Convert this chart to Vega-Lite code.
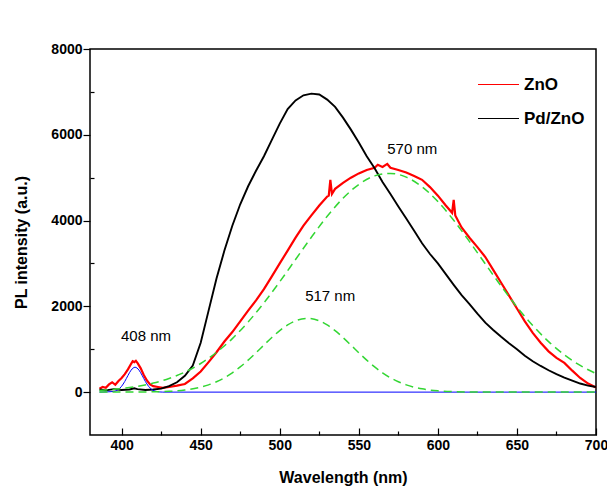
{
  "$schema": "https://vega.github.io/schema/vega-lite/v6.json",
  "width": 506,
  "height": 386,
  "autosize": {"type": "none"},
  "padding": {"left": 90, "top": 49, "right": 11, "bottom": 52},
  "background": "#ffffff",
  "data": {"values": [
    {"series":"ZnO","wl":386,"I":80},{"series":"ZnO","wl":388,"I":120},{"series":"ZnO","wl":390,"I":100},{"series":"ZnO","wl":392,"I":180},{"series":"ZnO","wl":394,"I":230},{"series":"ZnO","wl":396,"I":170},{"series":"ZnO","wl":398,"I":260},{"series":"ZnO","wl":400,"I":330},{"series":"ZnO","wl":402,"I":420},{"series":"ZnO","wl":404,"I":530},{"series":"ZnO","wl":406,"I":660},{"series":"ZnO","wl":407,"I":720},{"series":"ZnO","wl":408,"I":700},{"series":"ZnO","wl":409,"I":730},{"series":"ZnO","wl":410,"I":680},{"series":"ZnO","wl":412,"I":560},{"series":"ZnO","wl":414,"I":400},{"series":"ZnO","wl":416,"I":270},{"series":"ZnO","wl":418,"I":180},{"series":"ZnO","wl":420,"I":140},{"series":"ZnO","wl":423,"I":120},{"series":"ZnO","wl":426,"I":100},{"series":"ZnO","wl":430,"I":120},{"series":"ZnO","wl":435,"I":150},{"series":"ZnO","wl":440,"I":190},{"series":"ZnO","wl":445,"I":320},{"series":"ZnO","wl":450,"I":480},{"series":"ZnO","wl":455,"I":700},{"series":"ZnO","wl":460,"I":930},{"series":"ZnO","wl":465,"I":1180},{"series":"ZnO","wl":470,"I":1400},{"series":"ZnO","wl":475,"I":1650},{"series":"ZnO","wl":480,"I":1900},{"series":"ZnO","wl":485,"I":2140},{"series":"ZnO","wl":490,"I":2400},{"series":"ZnO","wl":495,"I":2700},{"series":"ZnO","wl":500,"I":3000},{"series":"ZnO","wl":505,"I":3300},{"series":"ZnO","wl":510,"I":3600},{"series":"ZnO","wl":515,"I":3880},{"series":"ZnO","wl":520,"I":4120},{"series":"ZnO","wl":525,"I":4350},{"series":"ZnO","wl":530,"I":4560},{"series":"ZnO","wl":531,"I":4580},{"series":"ZnO","wl":532,"I":4950},{"series":"ZnO","wl":533,"I":4620},{"series":"ZnO","wl":535,"I":4740},{"series":"ZnO","wl":540,"I":4880},{"series":"ZnO","wl":545,"I":5000},{"series":"ZnO","wl":550,"I":5100},{"series":"ZnO","wl":555,"I":5180},{"series":"ZnO","wl":560,"I":5230},{"series":"ZnO","wl":562,"I":5300},{"series":"ZnO","wl":565,"I":5250},{"series":"ZnO","wl":568,"I":5320},{"series":"ZnO","wl":570,"I":5230},{"series":"ZnO","wl":575,"I":5180},{"series":"ZnO","wl":580,"I":5120},{"series":"ZnO","wl":585,"I":5040},{"series":"ZnO","wl":590,"I":4950},{"series":"ZnO","wl":595,"I":4780},{"series":"ZnO","wl":600,"I":4580},{"series":"ZnO","wl":605,"I":4350},{"series":"ZnO","wl":609,"I":4180},{"series":"ZnO","wl":610,"I":4480},{"series":"ZnO","wl":611,"I":4120},{"series":"ZnO","wl":615,"I":3840},{"series":"ZnO","wl":620,"I":3600},{"series":"ZnO","wl":625,"I":3380},{"series":"ZnO","wl":630,"I":3150},{"series":"ZnO","wl":635,"I":2850},{"series":"ZnO","wl":640,"I":2550},{"series":"ZnO","wl":645,"I":2250},{"series":"ZnO","wl":650,"I":1950},{"series":"ZnO","wl":655,"I":1650},{"series":"ZnO","wl":660,"I":1380},{"series":"ZnO","wl":665,"I":1150},{"series":"ZnO","wl":670,"I":950},{"series":"ZnO","wl":675,"I":800},{"series":"ZnO","wl":680,"I":680},{"series":"ZnO","wl":685,"I":500},{"series":"ZnO","wl":690,"I":330},{"series":"ZnO","wl":695,"I":200},{"series":"ZnO","wl":700,"I":110},
    {"series":"Pd/ZnO","wl":386,"I":60},{"series":"Pd/ZnO","wl":390,"I":40},{"series":"Pd/ZnO","wl":395,"I":70},{"series":"Pd/ZnO","wl":400,"I":50},{"series":"Pd/ZnO","wl":405,"I":60},{"series":"Pd/ZnO","wl":408,"I":90},{"series":"Pd/ZnO","wl":410,"I":70},{"series":"Pd/ZnO","wl":415,"I":50},{"series":"Pd/ZnO","wl":420,"I":60},{"series":"Pd/ZnO","wl":425,"I":80},{"series":"Pd/ZnO","wl":430,"I":140},{"series":"Pd/ZnO","wl":435,"I":230},{"series":"Pd/ZnO","wl":440,"I":380},{"series":"Pd/ZnO","wl":445,"I":620},{"series":"Pd/ZnO","wl":450,"I":1150},{"series":"Pd/ZnO","wl":455,"I":1900},{"series":"Pd/ZnO","wl":460,"I":2650},{"series":"Pd/ZnO","wl":465,"I":3300},{"series":"Pd/ZnO","wl":470,"I":3880},{"series":"Pd/ZnO","wl":475,"I":4380},{"series":"Pd/ZnO","wl":480,"I":4800},{"series":"Pd/ZnO","wl":485,"I":5160},{"series":"Pd/ZnO","wl":490,"I":5500},{"series":"Pd/ZnO","wl":495,"I":5880},{"series":"Pd/ZnO","wl":500,"I":6260},{"series":"Pd/ZnO","wl":505,"I":6600},{"series":"Pd/ZnO","wl":510,"I":6800},{"series":"Pd/ZnO","wl":515,"I":6920},{"series":"Pd/ZnO","wl":520,"I":6960},{"series":"Pd/ZnO","wl":525,"I":6940},{"series":"Pd/ZnO","wl":530,"I":6820},{"series":"Pd/ZnO","wl":535,"I":6650},{"series":"Pd/ZnO","wl":540,"I":6400},{"series":"Pd/ZnO","wl":545,"I":6120},{"series":"Pd/ZnO","wl":550,"I":5820},{"series":"Pd/ZnO","wl":555,"I":5500},{"series":"Pd/ZnO","wl":560,"I":5220},{"series":"Pd/ZnO","wl":565,"I":4900},{"series":"Pd/ZnO","wl":570,"I":4620},{"series":"Pd/ZnO","wl":575,"I":4330},{"series":"Pd/ZnO","wl":580,"I":4050},{"series":"Pd/ZnO","wl":585,"I":3760},{"series":"Pd/ZnO","wl":590,"I":3470},{"series":"Pd/ZnO","wl":595,"I":3220},{"series":"Pd/ZnO","wl":600,"I":3000},{"series":"Pd/ZnO","wl":605,"I":2750},{"series":"Pd/ZnO","wl":610,"I":2500},{"series":"Pd/ZnO","wl":615,"I":2260},{"series":"Pd/ZnO","wl":620,"I":2050},{"series":"Pd/ZnO","wl":625,"I":1830},{"series":"Pd/ZnO","wl":630,"I":1620},{"series":"Pd/ZnO","wl":635,"I":1450},{"series":"Pd/ZnO","wl":640,"I":1290},{"series":"Pd/ZnO","wl":645,"I":1140},{"series":"Pd/ZnO","wl":650,"I":1000},{"series":"Pd/ZnO","wl":655,"I":850},{"series":"Pd/ZnO","wl":660,"I":720},{"series":"Pd/ZnO","wl":665,"I":610},{"series":"Pd/ZnO","wl":670,"I":510},{"series":"Pd/ZnO","wl":675,"I":420},{"series":"Pd/ZnO","wl":680,"I":340},{"series":"Pd/ZnO","wl":685,"I":270},{"series":"Pd/ZnO","wl":690,"I":200},{"series":"Pd/ZnO","wl":695,"I":150},{"series":"Pd/ZnO","wl":700,"I":120},
    {"series":"fit408","wl":386,"I":0},{"series":"fit408","wl":395,"I":15},{"series":"fit408","wl":398,"I":64},{"series":"fit408","wl":400,"I":137},{"series":"fit408","wl":402,"I":249},{"series":"fit408","wl":404,"I":387},{"series":"fit408","wl":406,"I":512},{"series":"fit408","wl":408.5,"I":580},{"series":"fit408","wl":411,"I":512},{"series":"fit408","wl":413,"I":387},{"series":"fit408","wl":415,"I":249},{"series":"fit408","wl":417,"I":137},{"series":"fit408","wl":419,"I":64},{"series":"fit408","wl":422,"I":15},{"series":"fit408","wl":426,"I":0},{"series":"fit408","wl":700,"I":0},
    {"series":"fit517","wl":386,"I":0},{"series":"fit517","wl":420,"I":6},{"series":"fit517","wl":430,"I":18},{"series":"fit517","wl":440,"I":48},{"series":"fit517","wl":450,"I":115},{"series":"fit517","wl":455,"I":169},{"series":"fit517","wl":460,"I":241},{"series":"fit517","wl":465,"I":334},{"series":"fit517","wl":470,"I":450},{"series":"fit517","wl":475,"I":588},{"series":"fit517","wl":480,"I":745},{"series":"fit517","wl":485,"I":918},{"series":"fit517","wl":490,"I":1097},{"series":"fit517","wl":495,"I":1273},{"series":"fit517","wl":500,"I":1434},{"series":"fit517","wl":505,"I":1567},{"series":"fit517","wl":510,"I":1663},{"series":"fit517","wl":517.5,"I":1720},{"series":"fit517","wl":525,"I":1663},{"series":"fit517","wl":530,"I":1567},{"series":"fit517","wl":535,"I":1434},{"series":"fit517","wl":540,"I":1273},{"series":"fit517","wl":545,"I":1097},{"series":"fit517","wl":550,"I":918},{"series":"fit517","wl":555,"I":745},{"series":"fit517","wl":560,"I":588},{"series":"fit517","wl":565,"I":450},{"series":"fit517","wl":570,"I":334},{"series":"fit517","wl":575,"I":241},{"series":"fit517","wl":580,"I":169},{"series":"fit517","wl":590,"I":76},{"series":"fit517","wl":600,"I":30},{"series":"fit517","wl":610,"I":11},{"series":"fit517","wl":620,"I":3},{"series":"fit517","wl":640,"I":0},{"series":"fit517","wl":700,"I":0},
    {"series":"fit570","wl":386,"I":40},{"series":"fit570","wl":390,"I":51},{"series":"fit570","wl":400,"I":84},{"series":"fit570","wl":410,"I":135},{"series":"fit570","wl":420,"I":210},{"series":"fit570","wl":430,"I":318},{"series":"fit570","wl":440,"I":467},{"series":"fit570","wl":450,"I":667},{"series":"fit570","wl":460,"I":926},{"series":"fit570","wl":470,"I":1248},{"series":"fit570","wl":480,"I":1635},{"series":"fit570","wl":490,"I":2081},{"series":"fit570","wl":500,"I":2573},{"series":"fit570","wl":510,"I":3093},{"series":"fit570","wl":520,"I":3612},{"series":"fit570","wl":530,"I":4099},{"series":"fit570","wl":540,"I":4520},{"series":"fit570","wl":550,"I":4842},{"series":"fit570","wl":560,"I":5041},{"series":"fit570","wl":570,"I":5100},{"series":"fit570","wl":580,"I":5012},{"series":"fit570","wl":590,"I":4787},{"series":"fit570","wl":600,"I":4443},{"series":"fit570","wl":610,"I":4006},{"series":"fit570","wl":620,"I":3510},{"series":"fit570","wl":630,"I":2989},{"series":"fit570","wl":640,"I":2473},{"series":"fit570","wl":650,"I":1987},{"series":"fit570","wl":660,"I":1553},{"series":"fit570","wl":670,"I":1178},{"series":"fit570","wl":680,"I":869},{"series":"fit570","wl":690,"I":622},{"series":"fit570","wl":700,"I":433}
  ]},
  "encoding": {
    "x": {"field": "wl", "type": "quantitative",
      "scale": {"domain": [380, 700], "nice": false, "zero": false},
      "axis": {"title": "Wavelength (nm)",
        "values": [400,425,450,475,500,525,550,575,600,625,650,675,700],
        "labelExpr": "datum.value % 50 === 0 ? datum.label : ''",
        "tickSize": {"condition": {"test": "datum.value % 50 === 0", "value": -7}, "value": -4},
        "labelPadding": 10, "titlePadding": 14, "labelFlush": false, "labelOverlap": false}},
    "y": {"field": "I", "type": "quantitative",
      "scale": {"domain": [-1000, 8000], "nice": false, "zero": false},
      "axis": {"title": "PL intensity (a.u.)",
        "values": [0,1000,2000,3000,4000,5000,6000,7000,8000],
        "format": "d",
        "labelExpr": "datum.value % 2000 === 0 ? datum.label : ''",
        "tickSize": {"condition": {"test": "datum.value % 2000 === 0", "value": 7}, "value": -4},
        "labelPadding": 1, "titlePadding": 21, "labelFlush": false, "labelOverlap": false}}
  },
  "layer": [
    {"transform": [{"filter": "datum.series === 'ZnO'"}],
     "mark": {"type": "line", "strokeWidth": 2.2},
     "encoding": {"color": {"datum": "ZnO", "type": "nominal",
        "scale": {"domain": ["ZnO", "Pd/ZnO"], "range": ["#ff0000", "#000000"]},
        "legend": {"title": null, "orient": "none", "legendX": 387, "legendY": 14, "padding": 0,
          "symbolType": "stroke", "symbolSize": 1681, "symbolStrokeWidth": 1.2,
          "labelFont": "Liberation Sans", "labelFontWeight": "bold", "labelFontSize": 17, "labelColor": "#000",
          "labelOffset": 4, "rowPadding": 4}}}},
    {"transform": [{"filter": "datum.series === 'Pd/ZnO'"}],
     "mark": {"type": "line", "strokeWidth": 1.9},
     "encoding": {"color": {"datum": "Pd/ZnO", "type": "nominal"}}},
    {"transform": [{"filter": "datum.series === 'fit408'"}],
     "mark": {"type": "line", "color": "#0000ff", "strokeWidth": 1, "interpolate": "monotone"},
     "encoding": {}},
    {"transform": [{"filter": "datum.series === 'fit517' || datum.series === 'fit570'"}],
     "mark": {"type": "line", "color": "#33d633", "strokeWidth": 1.5, "strokeDash": [8, 5], "interpolate": "monotone"},
     "encoding": {"detail": {"field": "series", "type": "nominal"}}},
    {"data": {"values": [
      {"label": "408 nm", "wl": 415.4, "I": 1300},
      {"label": "517 nm", "wl": 531.9, "I": 2240},
      {"label": "570 nm", "wl": 583.8, "I": 5660}
     ]},
     "mark": {"type": "text", "font": "Liberation Sans", "fontSize": 15, "color": "#000", "align": "center", "baseline": "middle"},
     "encoding": {"text": {"field": "label", "type": "nominal"}}}
  ],
  "config": {
    "view": {"stroke": "#000000", "strokeWidth": 1.5},
    "font": "Liberation Sans",
    "axis": {"domain": false, "grid": false, "labelFont": "Liberation Sans", "labelFontWeight": "bold", "labelFontSize": 14, "labelColor": "#000",
      "titleFont": "Liberation Sans", "titleFontWeight": "bold", "titleFontSize": 16, "titleColor": "#000", "tickColor": "#000", "tickWidth": 1.2}
  }
}
